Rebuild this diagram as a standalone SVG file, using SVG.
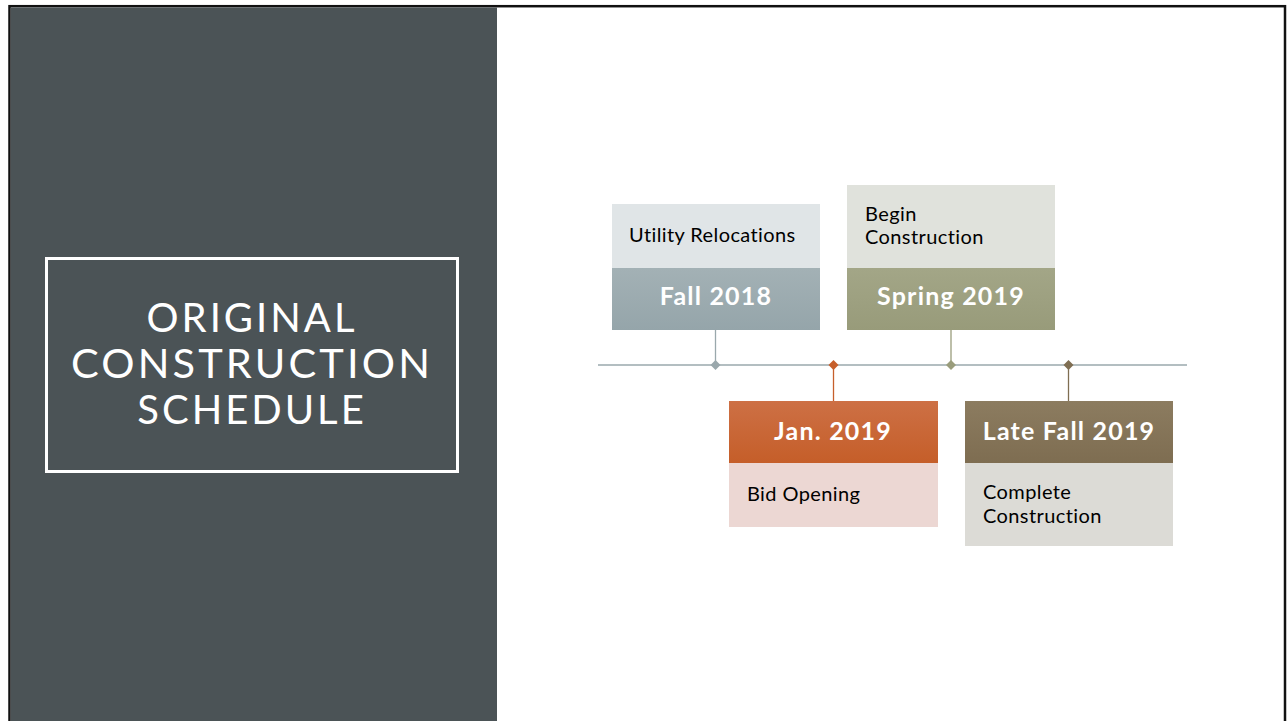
<svg xmlns="http://www.w3.org/2000/svg" width="1288" height="721" viewBox="0 0 1288 721">
<defs>
<linearGradient id="gBlue" x1="0" y1="0" x2="0" y2="1"><stop offset="0" stop-color="#a3b1b5"/><stop offset="1" stop-color="#95a5aa"/></linearGradient>
<linearGradient id="gGreen" x1="0" y1="0" x2="0" y2="1"><stop offset="0" stop-color="#a3a687"/><stop offset="1" stop-color="#989b7a"/></linearGradient>
<linearGradient id="gOrange" x1="0" y1="0" x2="0" y2="1"><stop offset="0" stop-color="#cd7045"/><stop offset="1" stop-color="#c55e29"/></linearGradient>
<linearGradient id="gBrown" x1="0" y1="0" x2="0" y2="1"><stop offset="0" stop-color="#8c7c60"/><stop offset="1" stop-color="#7e6d51"/></linearGradient>
</defs>
<style>
.title{font-family:Lato,"Liberation Sans",sans-serif;font-size:40px;fill:#ffffff;text-anchor:middle;letter-spacing:3px}
.date{font-family:Lato,"Liberation Sans",sans-serif;font-size:25px;font-weight:bold;fill:#ffffff;text-anchor:middle;letter-spacing:1.2px}
.desc{font-family:Lato,"Liberation Sans",sans-serif;font-size:20px;fill:#000000;letter-spacing:0.4px}
</style>
<rect x="0" y="0" width="1288" height="721" fill="#ffffff"/>
<rect x="9.5" y="6.2" width="1275.5" height="730" fill="none" stroke="#111111" stroke-width="2.5"/>
<rect x="10.8" y="7.5" width="486.2" height="714" fill="#4b5356"/>
<g id="title">
<rect x="46.5" y="258.5" width="411" height="213" fill="none" stroke="#ffffff" stroke-width="3"/>
<text class="title" x="252" y="332">ORIGINAL</text>
<text class="title" x="252" y="378" textLength="362" lengthAdjust="spacingAndGlyphs">CONSTRUCTION</text>
<text class="title" x="252" y="424">SCHEDULE</text>
</g>
<g id="connectors">
<line x1="598" y1="365" x2="1187" y2="365" stroke="#9aa8ac" stroke-width="1.3"/>
<line x1="715.5" y1="330" x2="715.5" y2="365" stroke="#9aa8ac" stroke-width="1.3"/>
<line x1="951" y1="330" x2="951" y2="365" stroke="#9a9d7c" stroke-width="1.3"/>
<line x1="833.5" y1="365" x2="833.5" y2="401" stroke="#c65f2b" stroke-width="1.3"/>
<line x1="1068.5" y1="365" x2="1068.5" y2="401" stroke="#7f6e52" stroke-width="1.3"/>
<polygon points="715.5,360 720.5,365 715.5,370 710.5,365" fill="#9aa8ac"/>
<polygon points="833.5,360 838.5,365 833.5,370 828.5,365" fill="#c65f2b"/>
<polygon points="951,360 956,365 951,370 946,365" fill="#9a9d7c"/>
<polygon points="1068.5,360 1073.5,365 1068.5,370 1063.5,365" fill="#7f6e52"/>
</g>
<g id="fall2018">
<rect x="612" y="204" width="208" height="64" fill="#e0e5e7"/>
<rect x="612" y="268" width="208" height="62" fill="url(#gBlue)"/>
<text class="desc" x="629" y="242">Utility Relocations</text>
<text class="date" x="716" y="305">Fall 2018</text>
</g>
<g id="spring2019">
<rect x="847" y="185" width="208" height="83" fill="#e0e2dc"/>
<rect x="847" y="268" width="208" height="62" fill="url(#gGreen)"/>
<text class="desc" x="865" y="221">Begin</text>
<text class="desc" x="865" y="244">Construction</text>
<text class="date" x="951" y="305">Spring 2019</text>
</g>
<g id="jan2019">
<rect x="729" y="401" width="209" height="62" fill="url(#gOrange)"/>
<rect x="729" y="463" width="209" height="64" fill="#ecd7d3"/>
<text class="date" x="833" y="440">Jan. 2019</text>
<text class="desc" x="747" y="501">Bid Opening</text>
</g>
<g id="latefall2019">
<rect x="965" y="401" width="208" height="62" fill="url(#gBrown)"/>
<rect x="965" y="463" width="208" height="83" fill="#dcdbd6"/>
<text class="date" x="1069" y="440">Late Fall 2019</text>
<text class="desc" x="983" y="499">Complete</text>
<text class="desc" x="983" y="523">Construction</text>
</g>
</svg>
